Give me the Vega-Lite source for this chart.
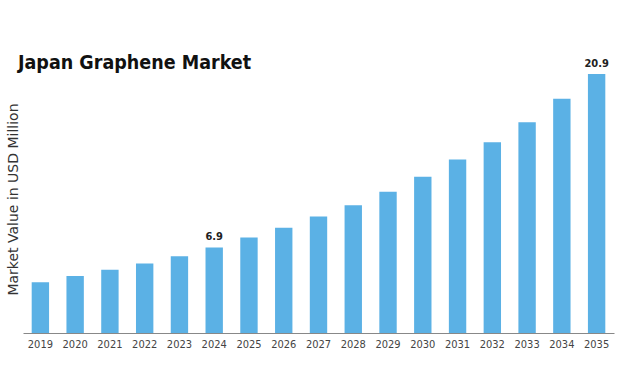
{
  "$schema": "https://vega.github.io/schema/vega-lite/v6.json",
  "autosize": {"type": "none"},
  "padding": {"left": 23, "top": 74, "right": 23, "bottom": 52},
  "width": 591,
  "height": 259,
  "background": "white",
  "title": {
    "text": "Japan Graphene Market",
    "anchor": "start",
    "frame": "group",
    "font": "DejaVu Sans Condensed",
    "fontWeight": "bold",
    "fontSize": 19.5,
    "color": "#111111",
    "dx": -5,
    "dy": 19,
    "offset": 4
  },
  "config": {"view": {"stroke": null}},
  "data": {
    "values": [
      {"year": "2019", "value": 4.1},
      {"year": "2020", "value": 4.6},
      {"year": "2021", "value": 5.1},
      {"year": "2022", "value": 5.6},
      {"year": "2023", "value": 6.2},
      {"year": "2024", "value": 6.9},
      {"year": "2025", "value": 7.7},
      {"year": "2026", "value": 8.5},
      {"year": "2027", "value": 9.4},
      {"year": "2028", "value": 10.3},
      {"year": "2029", "value": 11.4},
      {"year": "2030", "value": 12.6},
      {"year": "2031", "value": 14.0},
      {"year": "2032", "value": 15.4},
      {"year": "2033", "value": 17.0},
      {"year": "2034", "value": 18.9},
      {"year": "2035", "value": 20.9}
    ]
  },
  "encoding": {
    "x": {
      "field": "year",
      "type": "ordinal",
      "scale": {"paddingInner": 0.5, "paddingOuter": 0.25},
      "axis": {
        "title": null,
        "labelAngle": 0,
        "ticks": false,
        "labelPadding": 5,
        "labelFont": "DejaVu Sans Condensed",
        "labelFontSize": 11,
        "labelColor": "#444444",
        "domainColor": "#888888",
        "domainWidth": 1
      }
    },
    "y": {
      "field": "value",
      "type": "quantitative",
      "scale": {"domain": [0, 20.9], "nice": false},
      "axis": {
        "title": "Market Value in USD Million",
        "titleFont": "DejaVu Sans",
        "titleFontSize": 14,
        "titleFontWeight": "normal",
        "titleColor": "#333333",
        "titlePadding": 3,
        "titleY": 125,
        "labels": false,
        "ticks": false,
        "domain": false,
        "grid": false
      }
    }
  },
  "layer": [
    {"mark": {"type": "bar", "color": "#5BB1E5"}},
    {
      "transform": [{"filter": "datum.year == '2024' || datum.year == '2035'"}],
      "mark": {
        "type": "text",
        "baseline": "bottom",
        "dy": -5,
        "font": "DejaVu Sans Condensed",
        "fontWeight": "bold",
        "fontSize": 11,
        "color": "#222222"
      },
      "encoding": {"text": {"field": "value", "type": "quantitative", "format": ".1f"}}
    }
  ]
}
